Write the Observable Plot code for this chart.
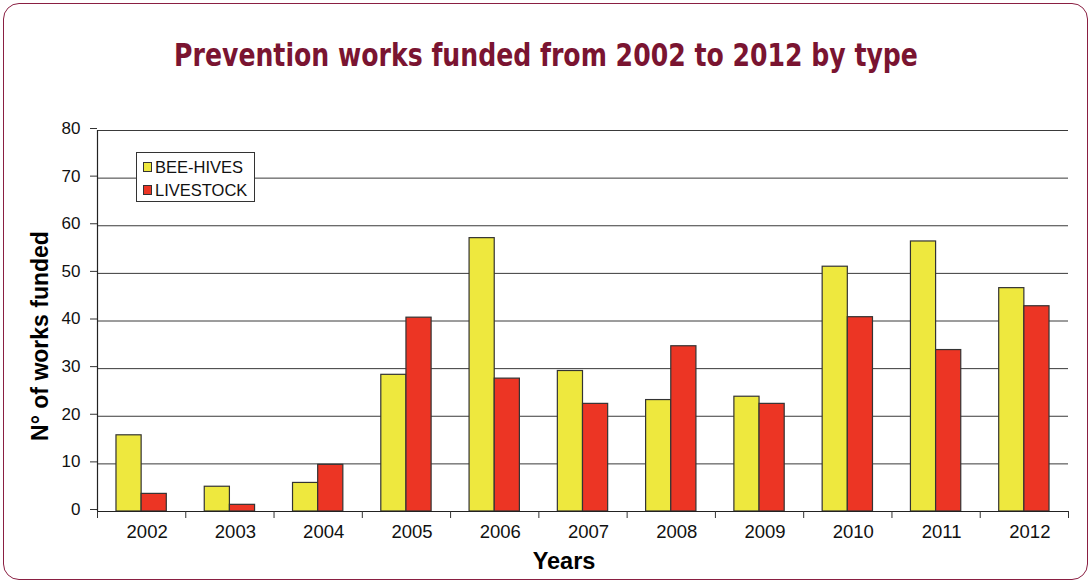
<!DOCTYPE html>
<html>
<head>
<meta charset="utf-8">
<script src="https://cdn.jsdelivr.net/npm/d3@7"></script>
<script src="https://cdn.jsdelivr.net/npm/@observablehq/plot@0.6"></script>
<style>
  html, body { margin: 0; padding: 0; background: #ffffff; }
  #wrap { position: relative; width: 1092px; height: 583px; overflow: hidden; font-family: "Liberation Sans", Arial, sans-serif; }
  #border { position: absolute; left: 3px; top: 3px; width: 1083px; height: 575px; border: 1.5px solid #8a1f42; border-radius: 16px; box-sizing: content-box; }
  #title { position: absolute; left: 0; width: 1092px; top: 33px; text-align: center; font-family: "DejaVu Sans Condensed", "DejaVu Sans", sans-serif; font-weight: bold; font-size: 32px; color: #7a1431; line-height: 44px; white-space: nowrap; transform: scaleX(0.874); transform-origin: 546px 0; }
  #chart { position: absolute; left: 0; top: 101px; }
  #legend { position: absolute; left: 136px; top: 152px; width: 117px; height: 48px; border: 1px solid #333; background: #fff; font-size: 16.5px; color: #111; }
  .item { position: absolute; left: 6px; height: 12px; line-height: 12px; }
  .sw { position: absolute; left: 0; top: 0; width: 7px; height: 8px; border: 1px solid #333; }
  .lab { position: absolute; left: 12px; top: -1px; white-space: nowrap; }
</style>
</head>
<body>
<div id="wrap">
  <div id="border"></div>
  <div id="title"></div>
  <div id="chart"></div>
  <div id="legend"></div>
</div>
<script>
const titleText = "Prevention works funded from 2002 to 2012 by type";
const years = [2002, 2003, 2004, 2005, 2006, 2007, 2008, 2009, 2010, 2011, 2012];
const beeHives = [16, 5.2, 6, 28.7, 57.4, 29.5, 23.4, 24.1, 51.4, 56.7, 46.9];
const livestock = [3.7, 1.4, 9.8, 40.7, 27.9, 22.6, 34.7, 22.6, 40.8, 33.9, 43.1];
const seriesNames = ["BEE-HIVES", "LIVESTOCK"];
const seriesColors = ["#eee83e", "#ec3524"];
const yTicks = [0, 10, 20, 30, 40, 50, 60, 70, 80];
const yLabel = "N° of works funded";
const xLabel = "Years";

document.getElementById("title").textContent = titleText;

const barW = 0.285; // bar width as a fraction of a year slot
const data = [];
years.forEach((yr, i) => {
  data.push({year: yr, series: seriesNames[0], value: beeHives[i], x1: yr - barW, x2: yr});
  data.push({year: yr, series: seriesNames[1], value: livestock[i], x1: yr, x2: yr + barW});
});
const xMin = years[0] - 0.5, xMax = years[years.length - 1] + 0.5;
const boundaries = years.map(y => y - 0.5).concat([xMax]);

const chart = Plot.plot({
  width: 1092,
  height: 482,
  marginLeft: 97,
  marginRight: 24,
  marginTop: 29,
  marginBottom: 72,
  style: {fontFamily: "'Liberation Sans', Arial, sans-serif", fontSize: "17px", color: "#111", background: "transparent"},
  x: {domain: [xMin, xMax]},
  y: {domain: [0, 80]},
  color: {domain: seriesNames, range: seriesColors},
  marks: [
    Plot.ruleY(yTicks.filter(d => d > 0), {stroke: "#3a3a3a", strokeWidth: 1}),
    Plot.rectY(data, {x1: "x1", x2: "x2", y1: 0, y2: "value", fill: "series", stroke: "#333", strokeWidth: 1.2}),
    Plot.ruleY([0], {stroke: "#222", strokeWidth: 1.2}),
    Plot.ruleX([xMin], {stroke: "#222", strokeWidth: 1.2}),
    Plot.axisY({ticks: yTicks, tickSize: 7, tickPadding: 10, label: null, fontSize: 17, dy: -2, stroke: "#333"}),
    Plot.axisX({ticks: boundaries, tickSize: 7, tickFormat: () => "", label: null, stroke: "#333"}),
    Plot.axisX({ticks: years, tickSize: 0, tickPadding: 13, tickFormat: d => String(d), label: null, fontSize: 18.5, dx: 5.5}),
    Plot.text([yLabel], {frameAnchor: "left", textAnchor: "middle", rotate: -90, dx: -57, dy: 15, fontWeight: "bold", fontSize: 23, fill: "#000"}),
    Plot.text([xLabel], {frameAnchor: "bottom", dx: -19, dy: 57, fontWeight: "bold", fontSize: 23.5, fill: "#000"})
  ]
});
document.getElementById("chart").appendChild(chart);

const legend = document.getElementById("legend");
const tops = [9, 32];
seriesNames.forEach((name, i) => {
  const it = document.createElement("div");
  it.className = "item";
  it.style.top = tops[i] + "px";
  const sw = document.createElement("div");
  sw.className = "sw";
  sw.style.background = seriesColors[i];
  const lab = document.createElement("div");
  lab.className = "lab";
  lab.textContent = name;
  it.appendChild(sw);
  it.appendChild(lab);
  legend.appendChild(it);
});
</script>
</body>
</html>
